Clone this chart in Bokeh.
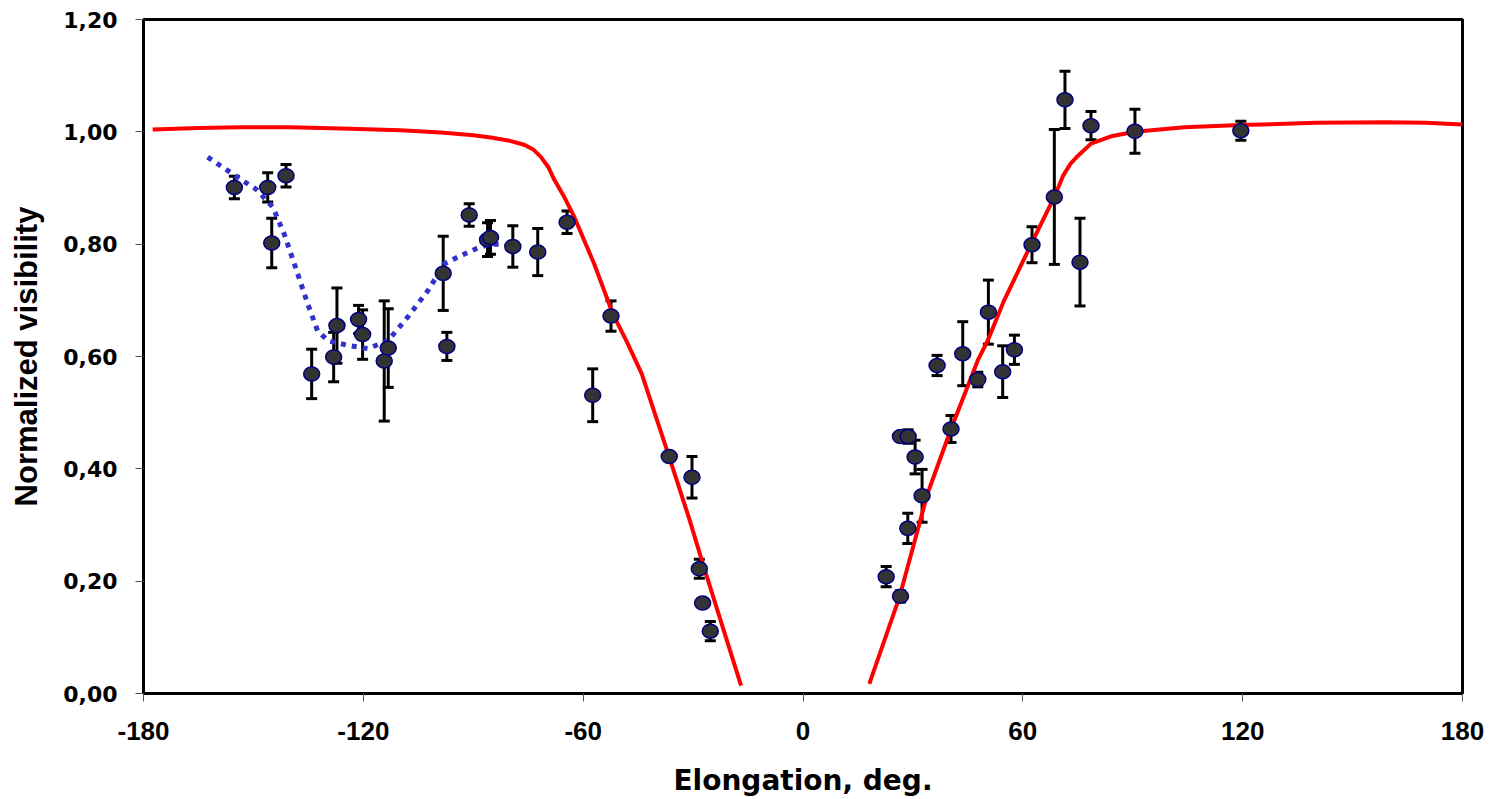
from bokeh.plotting import figure
from bokeh.models import ColumnDataSource, Whisker, TeeHead, FixedTicker, CustomJSTickFormatter, Range1d
from bokeh.embed import file_html
from bokeh.resources import INLINE

# Observed points: elongation (deg), normalized visibility, error (+/-)
obs_x = [-155.2, -146.1, -141.1, -145.0, -134.1, -128.1, -127.2, -121.3, -120.2, -114.3,
         -113.2, -98.2, -97.2, -91.1, -86.1, -85.3, -79.2, -72.4, -64.4, -57.4,
         -52.4, -36.5, -30.3, -28.3, -27.4, -25.3,
         22.7, 26.6, 28.6, 26.6, 28.7, 30.6, 32.5, 36.6, 40.4, 43.6,
         47.7, 50.6, 54.5, 57.7, 62.5, 68.6, 71.5, 75.6, 78.6, 90.6, 119.5]
obs_y = [0.901, 0.901, 0.922, 0.802, 0.569, 0.599, 0.655, 0.666, 0.639, 0.592,
         0.615, 0.748, 0.618, 0.852, 0.808, 0.812, 0.796, 0.786, 0.839, 0.531,
         0.672, 0.422, 0.385, 0.222, 0.161, 0.111,
         0.208, 0.173, 0.294, 0.4575, 0.4575, 0.421, 0.352, 0.584, 0.471, 0.605,
         0.559, 0.679, 0.573, 0.612, 0.799, 0.884, 1.057, 0.768, 1.011, 1.001, 1.002]
obs_err = [0.020, 0.026, 0.020, 0.044, 0.044, 0.044, 0.067, 0.025, 0.044, 0.107,
           0.070, 0.066, 0.025, 0.020, 0.030, 0.030, 0.037, 0.042, 0.020, 0.047,
           0.027, 0.005, 0.037, 0.017, 0.005, 0.017,
           0.018, 0.010, 0.027, 0.005, 0.012, 0.030, 0.047, 0.018, 0.024, 0.057,
           0.013, 0.057, 0.046, 0.026, 0.032, 0.120, 0.051, 0.078, 0.025, 0.039, 0.017]

# Model curve (red), two branches
model_left_x = [-177.5, -165, -153.4, -140, -126.1, -110, -98.8, -90, -85.2, -80, -76.1,
                -73.5, -71.5, -69.5, -67.9, -65, -62.4, -57, -51.9, -48, -44.0, -40,
                -36.5, -31, -26.9, -22, -16.9]
model_left_y = [1.004, 1.007, 1.008, 1.008, 1.006, 1.003, 0.999, 0.994, 0.990, 0.984, 0.977,
                0.968, 0.955, 0.937, 0.915, 0.882, 0.848, 0.765, 0.676, 0.625, 0.569, 0.490,
                0.421, 0.310, 0.222, 0.120, 0.014]
model_right_x = [18.1, 26.3, 34.0, 40.4, 47.7, 50.4, 54.9, 62.2, 68.6, 71.0, 73.1, 75.0,
                 78.6, 84.1, 90.6, 104.1, 119.5, 140, 158.7, 170, 180]
model_right_y = [0.017, 0.171, 0.356, 0.471, 0.593, 0.628, 0.700, 0.799, 0.884, 0.922, 0.944, 0.957,
                 0.979, 0.992, 1.000, 1.008, 1.012, 1.016, 1.017, 1.016, 1.013]

# Blue dotted trend line
trend_x = [-162.5, -154.3, -149.3, -144.7, -141.6, -137.9, -135.2, -132.5, -129.7, -124.3,
           -118.8, -113.3, -107.9, -102.4, -97.9, -93.3, -89.2, -85.6, -82.4]
trend_y = [0.955, 0.919, 0.898, 0.866, 0.818, 0.747, 0.694, 0.646, 0.628, 0.620,
           0.614, 0.628, 0.670, 0.717, 0.765, 0.780, 0.792, 0.800, 0.800]

x_ticks = [-180, -120, -60, 0, 60, 120, 180]
y_ticks = [0.0, 0.2, 0.4, 0.6, 0.8, 1.0, 1.2]

p = figure(width=1490, height=799, output_backend="svg", toolbar_location=None,
           x_range=Range1d(-180, 180), y_range=Range1d(0, 1.2),
           min_border_left=143, min_border_right=28, min_border_top=19, min_border_bottom=106)
p.background_fill_color = "white"
p.border_fill_color = "white"
p.outline_line_color = "black"
p.outline_line_width = 3
p.xgrid.visible = False
p.ygrid.visible = False

p.xaxis.ticker = FixedTicker(ticks=x_ticks)
p.yaxis.ticker = FixedTicker(ticks=y_ticks)
p.xaxis.formatter = CustomJSTickFormatter(code="return tick.toFixed(0);")
p.yaxis.formatter = CustomJSTickFormatter(code="return tick.toFixed(2).replace('.', ',');")

for ax in (p.xaxis[0], p.yaxis[0]):
    ax.axis_line_color = "black"
    ax.axis_line_width = 3
    ax.major_tick_line_color = "#555555"
    ax.major_tick_line_width = 1
    ax.major_tick_in = 0
    ax.major_tick_out = 8
    ax.minor_tick_line_color = None
    ax.major_label_text_font_style = "bold"
    ax.axis_label_text_font_style = "bold"
    ax.axis_label_text_color = "black"
    ax.major_label_text_color = "black"

p.xaxis.major_label_text_font = "Liberation Sans"
p.xaxis.major_label_text_font_size = "26px"
p.xaxis.major_label_standoff = 20
p.xaxis.axis_label = "Elongation, deg."
p.xaxis.axis_label_text_font = "DejaVu Sans"
p.xaxis.axis_label_text_font_size = "28px"
p.xaxis.axis_label_standoff = 21

p.yaxis.major_label_text_font = "DejaVu Sans"
p.yaxis.major_label_text_font_size = "22px"
p.yaxis.major_label_standoff = 18
p.yaxis.axis_label = "Normalized visibility"
p.yaxis.axis_label_text_font = "Liberation Sans"
p.yaxis.axis_label_text_font_size = "31px"
p.yaxis.axis_label_standoff = 16

# Model curve
p.line(model_left_x, model_left_y, line_color="#FF0000", line_width=4)
p.line(model_right_x, model_right_y, line_color="#FF0000", line_width=4)

# Trend
p.line(trend_x, trend_y, line_color="#3333CC", line_width=5, line_dash="5 6")

# Error bars
lower = [y - e for y, e in zip(obs_y, obs_err)]
upper = [y + e for y, e in zip(obs_y, obs_err)]
src = ColumnDataSource(dict(x=obs_x, y=obs_y, lower=lower, upper=upper))
w = Whisker(source=src, base="x", lower="lower", upper="upper", dimension="height",
            line_color="black", line_width=3,
            upper_head=TeeHead(size=11, line_color="black", line_width=3),
            lower_head=TeeHead(size=11, line_color="black", line_width=3))
p.add_layout(w)

# Markers
p.ellipse(x="x", y="y", width=16, height=14, width_units="screen", height_units="screen",
          source=src, fill_color="#333333", line_color="#000080", line_width=1.5)

open("out.html", "w").write(file_html(p, INLINE))
